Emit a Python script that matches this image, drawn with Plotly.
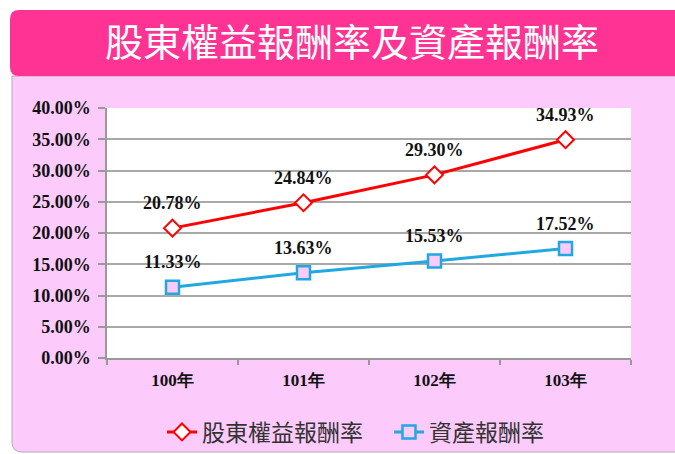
import plotly.graph_objects as go

# ---- data ----
categories = ["100年", "101年", "102年", "103年"]
roe_name = "股東權益報酬率"
roa_name = "資產報酬率"
roe_values = [20.78, 24.84, 29.30, 34.93]
roa_values = [11.33, 13.63, 15.53, 17.52]
title_text = "股東權益報酬率及資產報酬率"

# ---- layout geometry (pixels) ----
W, H = 675, 454
L, R, T, B = 107, 631, 108, 358


def px(x):
    return (x - L) / (R - L)


def py(y):
    return (B - y) / (B - T)


def rounded_path(x0, y0, x1, y1, r_tl=0, r_bl=0):
    pts = []
    pts.append(f"M {px(x0 + r_tl)} {py(y0)}")
    pts.append(f"L {px(x1)} {py(y0)}")
    pts.append(f"L {px(x1)} {py(y1)}")
    pts.append(f"L {px(x0 + r_bl)} {py(y1)}")
    if r_bl:
        pts.append(f"Q {px(x0)} {py(y1)} {px(x0)} {py(y1 - r_bl)}")
    pts.append(f"L {px(x0)} {py(y0 + r_tl)}")
    if r_tl:
        pts.append(f"Q {px(x0)} {py(y0)} {px(x0 + r_tl)} {py(y0)}")
    pts.append("Z")
    return " ".join(pts)


red = "#FF0000"
blue = "#22A8E0"
panel_pink = "#FCCBFC"
bar_pink = "#FE3393"

fig = go.Figure()
fig.add_trace(go.Scatter(
    x=categories, y=roe_values, name=roe_name, mode="lines+markers",
    line=dict(color=red, width=3),
    marker=dict(symbol="diamond", size=13, color="white",
                line=dict(color=red, width=2)),
))
fig.add_trace(go.Scatter(
    x=categories, y=roa_values, name=roa_name, mode="lines+markers",
    line=dict(color=blue, width=3),
    marker=dict(symbol="square", size=13, color=panel_pink,
                line=dict(color=blue, width=2.5)),
))

annotations = []
for series in (roe_values, roa_values):
    for c, v in zip(categories, series):
        annotations.append(dict(
            x=c, y=v, text=f"{v:.2f}%", showarrow=False, yshift=25,
            font=dict(family="Liberation Serif", size=18, color="#111",
                      weight="bold"),
        ))

shapes = [
    # light pink panel
    dict(type="path", xref="paper", yref="paper", layer="below",
         path=rounded_path(12, 76, 690, 452, r_tl=0, r_bl=10),
         fillcolor=panel_pink, line=dict(color="#B8A8B8", width=1)),
    # title bar
    dict(type="path", xref="paper", yref="paper", layer="below",
         path=rounded_path(10, 10, 690, 76, r_tl=9, r_bl=9),
         fillcolor=bar_pink, line=dict(width=0)),
    # white plot area
    dict(type="rect", xref="paper", yref="paper", layer="below",
         x0=0, x1=1, y0=0, y1=1, fillcolor="white", line=dict(width=0)),
]

fig.update_layout(
    width=W, height=H,
    margin=dict(l=L, r=W - R, t=T, b=H - B, pad=0, autoexpand=False),
    paper_bgcolor="white",
    plot_bgcolor="rgba(0,0,0,0)",
    title=dict(text=title_text, x=352 / W, y=1 - 43 / H,
               xanchor="center", yanchor="middle", xref="container",
               yref="container",
               font=dict(family="Noto Sans CJK TC", size=38, color="white")),
    showlegend=True,
    legend=dict(orientation="h", x=px(162), y=py(432), xanchor="left",
                yanchor="middle", bgcolor="rgba(0,0,0,0)",
                entrywidth=182, entrywidthmode="pixels",
                font=dict(family="Noto Sans CJK TC", size=23, color="#333")),
    annotations=annotations,
    shapes=shapes,
    xaxis=dict(
        type="category", range=[-0.5, 3.5], autorange=False,
        showgrid=False, showline=True, linecolor="#999",
        linewidth=1.5, ticks="outside", tickson="boundaries", ticklen=5,
        tickcolor="#999", tickwidth=1.5,
        tickfont=dict(family="Liberation Serif", size=17, color="#111",
                      weight="bold"),
        ticklabelstandoff=6, fixedrange=True,
    ),
    yaxis=dict(
        range=[0, 40], dtick=5, tickformat=".2f", ticksuffix="%",
        showgrid=True, gridcolor="#A8A8A8", gridwidth=1.5,
        showline=True, linecolor="#999", linewidth=1.5,
        ticks="outside", ticklen=7, tickcolor="#999", tickwidth=1.5,
        tickfont=dict(family="Liberation Serif", size=18, color="#111",
                      weight="bold"),
        ticklabelstandoff=4, zeroline=False, fixedrange=True,
    ),
)

fig.write_html("out.html", config={"displayModeBar": False},
               post_script="document.body.style.margin='0';")
